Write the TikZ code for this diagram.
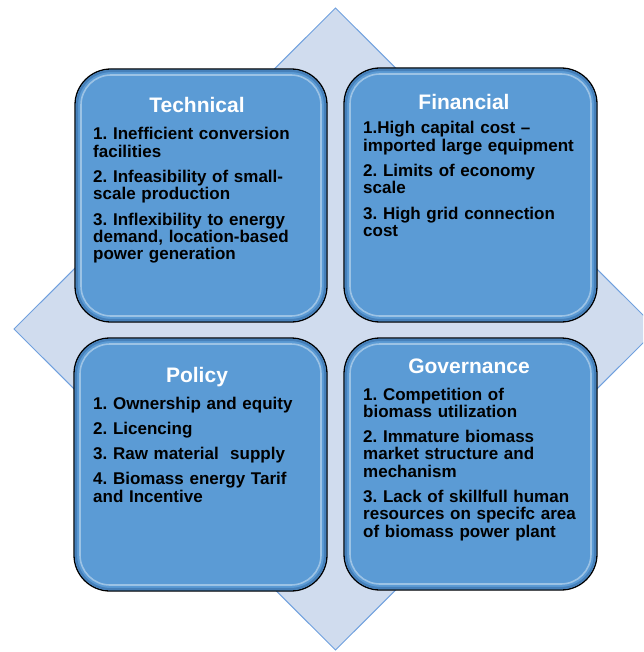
\documentclass[tikz,border=0pt]{standalone}
\usepackage{fontspec}
\setmainfont{Liberation Sans}
\frenchspacing
\definecolor{boxblue}{RGB}{91,155,213}
\definecolor{boxdark}{RGB}{70,128,186}
\definecolor{diafill}{RGB}{208,220,238}
\definecolor{diaedge}{RGB}{112,160,222}
\tikzset{
  quad/.style={draw=black, line width=1.3pt, fill=boxblue, rounded corners=36pt},
  quadglow/.style={draw=white, draw opacity=0.4, line width=1.6pt, rounded corners=30pt},
  quadshade/.style={draw=boxdark, line width=2.2pt, rounded corners=34pt},
  titletext/.style={font=\fontsize{21}{25}\selectfont\bfseries, text=white, anchor=base, inner sep=0pt},
  bodytext/.style={font=\fontsize{17}{17.3}\selectfont\bfseries\frenchspacing, text=black, anchor=base west, inner sep=0pt, text width=245pt, align=left}
}
\begin{document}
\begin{tikzpicture}[x=1pt, y=-1pt]
\useasboundingbox (0,0) rectangle (643,652);
\begin{scope}
\clip (0,0) rectangle (643,652);
\draw[fill=diafill, draw=diaedge, line width=1pt] (335.5,8) -- (657,329) -- (335.5,650) -- (14,329) -- cycle;
\end{scope}
% boxes
\foreach \xa/\ya/\xb/\yb in {75/69/327/322, 344/68/597/322, 74/338/327/591, 344/338/597/590}{
  \draw[quad] (\xa,\ya) rectangle (\xb,\yb);
  \draw[quadshade] (\xa+2,\ya+2) rectangle (\xb-2,\yb-2);
  \draw[quadglow] (\xa+6,\ya+6) rectangle (\xb-6,\yb-6);
}
% titles
\node[titletext] (tt) at (197,113) {Technical};
\node[titletext] (ft) at (464,110) {Financial};
\node[titletext] (pt) at (197,382) {Policy};
\node[titletext] (gt) at (469,373) {Governance};
% bodies
\node[bodytext] (tb) at (93,140) {1. Inefficient conversion\\facilities\\[8pt]2. Infeasibility of small-\\scale production\\[8pt]3. Inflexibility to energy\\demand, location-based\\power generation};
\node[bodytext] (fb) at (363,134) {1.High capital cost --\\imported large equipment\\[8pt]2. Limits of economy\\scale\\[8pt]3. High grid connection\\cost};
\node[bodytext] (pb) at (93,409) {1. Ownership and equity\\[8pt]2. Licencing\\[8pt]3. Raw material\ \ supply\\[8pt]4. Biomass energy Tarif\\and Incentive};
\node[bodytext] (gb) at (363,400) {1. Competition of\\biomass utilization\\[8pt]2. Immature biomass\\market structure and\\mechanism\\[8pt]3. Lack of skillfull human\\resources on specifc area\\of biomass power plant};
\end{tikzpicture}
\end{document}
